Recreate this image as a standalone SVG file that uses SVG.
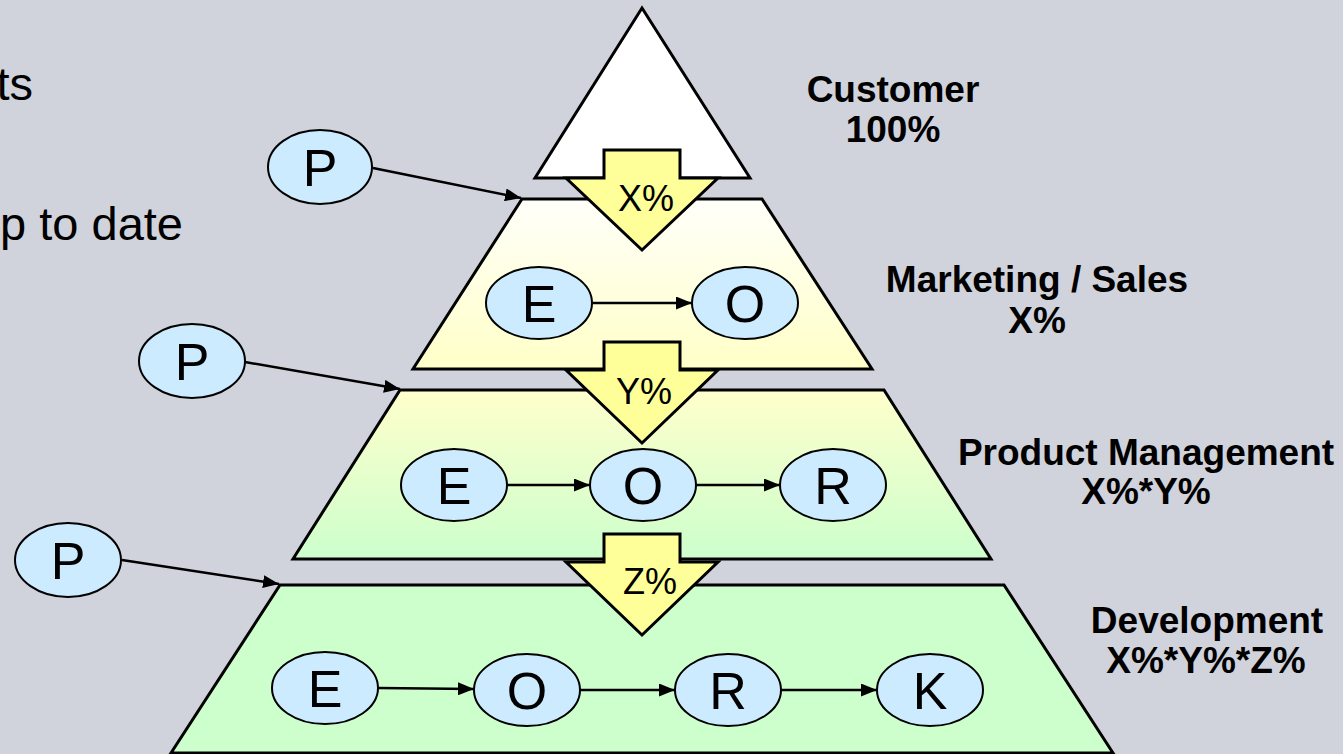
<svg xmlns="http://www.w3.org/2000/svg" width="1343" height="754" viewBox="0 0 1343 754">
<defs>
<linearGradient id="g1" x1="0" y1="0" x2="0" y2="1"><stop offset="0" stop-color="#FFFFFA"/><stop offset="1" stop-color="#FFFFC8"/></linearGradient>
<linearGradient id="g2" x1="0" y1="0" x2="0" y2="1"><stop offset="0" stop-color="#FFFFCC"/><stop offset="1" stop-color="#CCFFCC"/></linearGradient>
<marker id="ah" markerUnits="userSpaceOnUse" markerWidth="17" markerHeight="13" refX="16" refY="6.5" orient="auto"><path d="M0,0 L16,6.5 L0,13 Z" fill="#000"/></marker>
<style>
.lvl{stroke:#000;stroke-width:3;stroke-linejoin:miter}
.blk{fill:#FFFF99;stroke:#000;stroke-width:3}
.nd ellipse{fill:#CCEBFF;stroke:#000;stroke-width:2}
.nd text{font-family:"Liberation Sans",Arial,sans-serif;font-size:52px;text-anchor:middle;fill:#000}
.pct{font-family:"Liberation Sans",Arial,sans-serif;font-size:36px;text-anchor:middle;fill:#000}
.lab{font-family:"Liberation Sans",Arial,sans-serif;font-size:37px;font-weight:bold;text-anchor:middle;fill:#000}
.bg{font-family:"Liberation Sans",Arial,sans-serif;font-size:47px;text-anchor:end;fill:#000}
.con line{stroke:#000;stroke-width:2.5;marker-end:url(#ah)}
</style>
</defs>
<rect width="1343" height="754" fill="#D0D3DB"/>
<text class="bg" x="33" y="100">ts</text>
<text class="bg" x="183" y="240">p to date</text>

<g id="pyramid">
<polygon id="customer" class="lvl" fill="#FFFFFF" points="642,8 750,178 535,178"/>
<polygon id="marketing" class="lvl" fill="url(#g1)" points="522,199 762,199 872,369 413,369"/>
<polygon id="product" class="lvl" fill="url(#g2)" points="400,390 884,390 991,559 293,559"/>
<polygon id="development" class="lvl" fill="#CCFFCC" points="280,585 1004,585 1113,753 171,753"/>
</g>

<g id="flow-x"><path class="blk" d="M604,150 H680 V178 H718 L642,250 L566,178 H604 Z"/><text class="pct" x="646" y="211">X%</text></g>
<g id="flow-y"><path class="blk" d="M604,342 H680 V370 H718 L642,443 L566,370 H604 Z"/><text class="pct" x="644" y="404">Y%</text></g>
<g id="flow-z"><path class="blk" d="M604,534 H680 V562 H718 L642,635 L566,562 H604 Z"/><text class="pct" x="650" y="594">Z%</text></g>

<g id="labels">
<text class="lab" x="893" y="102">Customer</text>
<text class="lab" x="893" y="142">100%</text>
<text class="lab" x="1037" y="292">Marketing / Sales</text>
<text class="lab" x="1037" y="333">X%</text>
<text class="lab" x="1146" y="465">Product Management</text>
<text class="lab" x="1146" y="504">X%*Y%</text>
<text class="lab" x="1207" y="633">Development</text>
<text class="lab" x="1206" y="673">X%*Y%*Z%</text>
</g>

<g id="connectors" class="con">
<line x1="373" y1="168" x2="521" y2="198"/>
<line x1="245" y1="362" x2="400" y2="389"/>
<line x1="122" y1="560" x2="279" y2="584"/>
<line x1="592" y1="303" x2="692" y2="303"/>
<line x1="507" y1="485" x2="590" y2="485"/>
<line x1="696" y1="485" x2="780" y2="485"/>
<line x1="378" y1="688" x2="474" y2="689"/>
<line x1="580" y1="690" x2="675" y2="690"/>
<line x1="780" y1="690" x2="877" y2="690"/>
</g>

<g id="p1" class="nd"><ellipse cx="320" cy="167" rx="52" ry="37"/><text x="320" y="186">P</text></g>
<g id="p2" class="nd"><ellipse cx="192" cy="361" rx="53" ry="37"/><text x="192" y="380">P</text></g>
<g id="p3" class="nd"><ellipse cx="68" cy="560" rx="53" ry="37"/><text x="68" y="579">P</text></g>
<g id="m-e" class="nd"><ellipse cx="539" cy="303" rx="53" ry="36"/><text x="539" y="322">E</text></g>
<g id="m-o" class="nd"><ellipse cx="745" cy="303" rx="53" ry="36"/><text x="745" y="322">O</text></g>
<g id="pm-e" class="nd"><ellipse cx="454" cy="485" rx="53" ry="36"/><text x="454" y="504">E</text></g>
<g id="pm-o" class="nd"><ellipse cx="643" cy="485" rx="53" ry="36"/><text x="643" y="504">O</text></g>
<g id="pm-r" class="nd"><ellipse cx="833" cy="485" rx="53" ry="36"/><text x="833" y="504">R</text></g>
<g id="d-e" class="nd"><ellipse cx="325" cy="688" rx="53" ry="36"/><text x="325" y="707">E</text></g>
<g id="d-o" class="nd"><ellipse cx="527" cy="690" rx="53" ry="36"/><text x="527" y="709">O</text></g>
<g id="d-r" class="nd"><ellipse cx="728" cy="690" rx="53" ry="36"/><text x="728" y="709">R</text></g>
<g id="d-k" class="nd"><ellipse cx="930" cy="690" rx="53" ry="36"/><text x="930" y="709">K</text></g>
</svg>
